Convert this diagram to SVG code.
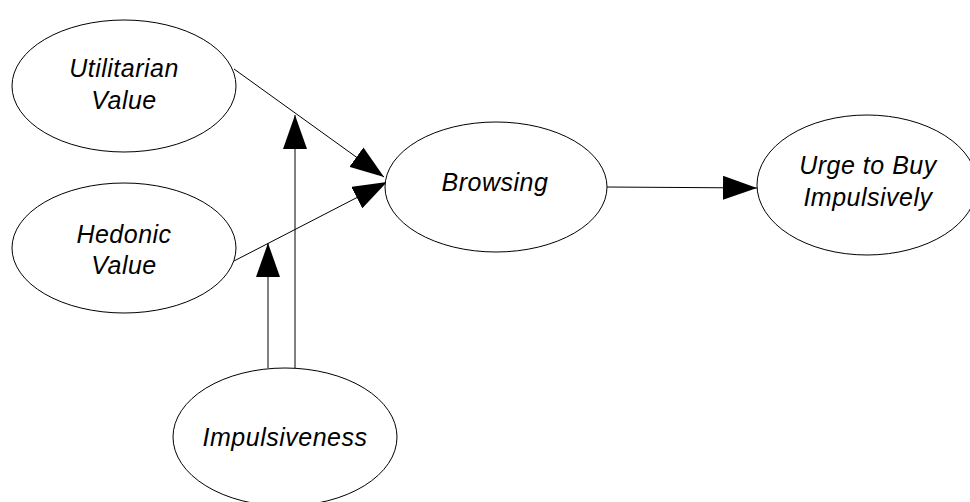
<svg xmlns="http://www.w3.org/2000/svg" width="970" height="502" viewBox="0 0 970 502">
  <style>
    .node ellipse { fill: #ffffff; stroke: #000000; stroke-width: 1; }
    .node text { font-family: "Liberation Sans", Arial, sans-serif; font-style: italic; font-size: 25px; letter-spacing: 0.5px; fill: #000000; text-anchor: middle; }
    .edge { stroke: #000000; stroke-width: 1; fill: none; marker-end: url(#head); }
  </style>
  <defs>
    <marker id="head" viewBox="0 0 34 24" refX="34" refY="12" markerWidth="34" markerHeight="24" markerUnits="userSpaceOnUse" orient="auto">
      <path d="M0,0 L34,12 L0,24 Z" fill="#000000"/>
    </marker>
  </defs>
  <rect width="970" height="502" fill="#ffffff"/>

  <g id="connectors">
    <line class="edge" x1="234" y1="69" x2="384" y2="177"/>
    <line class="edge" x1="234" y1="261" x2="387" y2="182"/>
    <line class="edge" x1="268" y1="368" x2="268" y2="243"/>
    <line class="edge" x1="295" y1="369" x2="295" y2="115"/>
    <line class="edge" x1="607" y1="187" x2="757" y2="188"/>
  </g>

  <g id="utilitarian" class="node">
    <ellipse cx="124" cy="86" rx="112" ry="66"/>
    <text x="124" y="77">Utilitarian</text>
    <text x="124" y="109">Value</text>
  </g>
  <g id="hedonic" class="node">
    <ellipse cx="124" cy="248" rx="112" ry="65"/>
    <text x="124" y="243">Hedonic</text>
    <text x="124" y="274">Value</text>
  </g>
  <g id="browsing" class="node">
    <ellipse cx="496" cy="187" rx="111" ry="65"/>
    <text x="495" y="191">Browsing</text>
  </g>
  <g id="urge" class="node">
    <ellipse cx="867" cy="185" rx="110" ry="70"/>
    <text x="868" y="174">Urge to Buy</text>
    <text x="868" y="206">Impulsively</text>
  </g>
  <g id="impulsiveness" class="node">
    <ellipse cx="285" cy="437" rx="112" ry="69"/>
    <text x="285" y="446">Impulsiveness</text>
  </g>
</svg>
